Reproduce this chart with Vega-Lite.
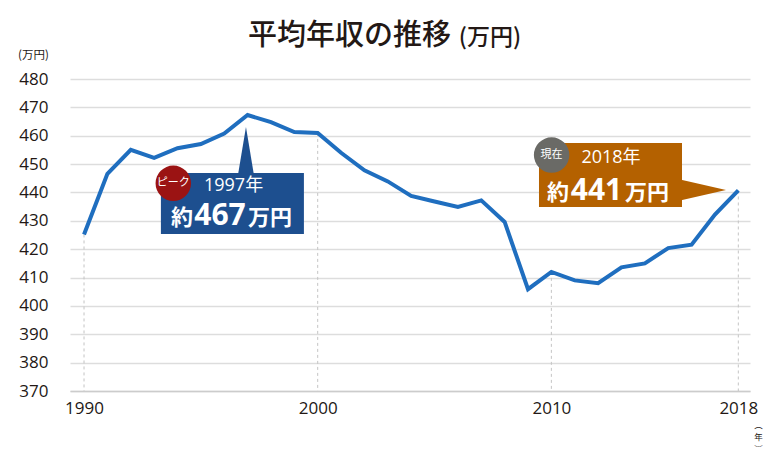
{
  "$schema": "https://vega.github.io/schema/vega-lite/v6.json",
  "width": 680,
  "height": 312,
  "autosize": {"type": "none"},
  "padding": {"left": 70, "top": 79, "right": 27, "bottom": 63},
  "background": "white",
  "config": {"view": {"stroke": null}},
  "data": {"values": [
    {"year": 1990, "income": 425.2}, {"year": 1991, "income": 446.6}, {"year": 1992, "income": 455.0},
    {"year": 1993, "income": 452.2}, {"year": 1994, "income": 455.6}, {"year": 1995, "income": 457.1},
    {"year": 1996, "income": 460.8}, {"year": 1997, "income": 467.3}, {"year": 1998, "income": 464.8},
    {"year": 1999, "income": 461.3}, {"year": 2000, "income": 461.0}, {"year": 2001, "income": 454.0},
    {"year": 2002, "income": 447.8}, {"year": 2003, "income": 443.9}, {"year": 2004, "income": 438.8},
    {"year": 2005, "income": 436.8}, {"year": 2006, "income": 434.9}, {"year": 2007, "income": 437.2},
    {"year": 2008, "income": 429.6}, {"year": 2009, "income": 405.9}, {"year": 2010, "income": 412.0},
    {"year": 2011, "income": 409.0}, {"year": 2012, "income": 408.0}, {"year": 2013, "income": 413.6},
    {"year": 2014, "income": 415.0}, {"year": 2015, "income": 420.4}, {"year": 2016, "income": 421.6},
    {"year": 2017, "income": 432.2}, {"year": 2018, "income": 440.7}
  ]},
  "layer": [
    {
      "mark": {"type": "line", "color": "#1f6ebf", "strokeWidth": 4, "strokeJoin": "miter", "opacity": 0},
      "encoding": {
        "x": {"field": "year", "type": "quantitative", "scale": {"domain": [1989.4, 2018.5], "nice": false, "zero": false},
          "axis": {"values": [1990, 2000, 2010, 2018], "tickCount": 10, "format": "d", "grid": false, "ticks": false,
            "domainColor": "#cccccc", "domainWidth": 1.5, "labelFont": "Open Sans", "labelFontSize": 17,
            "labelColor": "#231815", "labelPadding": 9, "labelFlush": false, "labelOverlap": false,
            "title": ["︵", "年", "︶"], "titleX": 688, "titleY": 29, "titleAngle": 0, "titleAlign": "center",
            "titleBaseline": "top", "titleFont": "Noto Sans CJK JP", "titleFontSize": 8.5, "titleFontWeight": "normal",
            "titleLineHeight": 12, "titleColor": "#231815"}},
        "y": {"field": "income", "type": "quantitative", "scale": {"domain": [370, 480], "nice": false, "zero": false},
          "axis": {"values": [370, 380, 390, 400, 410, 420, 430, 440, 450, 460, 470, 480], "tickCount": 20, "grid": true,
            "gridColor": "#dddddd", "gridWidth": 1.5, "ticks": false, "domain": false, "labelOverlap": false,
            "labelFont": "Open Sans", "labelFontSize": 17, "labelColor": "#231815", "labelPadding": 22,
            "title": "(万円)", "titleAngle": 0, "titleX": -37, "titleY": -24, "titleAlign": "center",
            "titleBaseline": "middle", "titleFont": "Noto Sans CJK JP", "titleFontSize": 11.5,
            "titleFontWeight": "normal", "titleColor": "#231815"}}
      }
    },
    {
      "transform": [{"filter": {"field": "year", "oneOf": [1990, 2000, 2010, 2018]}}],
      "mark": {"type": "rule", "color": "#c4c4c4", "strokeWidth": 1, "strokeDash": [3, 3]},
      "encoding": {
        "x": {"field": "year", "type": "quantitative"},
        "y": {"field": "income", "type": "quantitative"},
        "y2": {"datum": 370}
      }
    },
    {
      "mark": {"type": "line", "color": "#1f6ebf", "strokeWidth": 4, "strokeJoin": "miter"},
      "encoding": {
        "x": {"field": "year", "type": "quantitative"},
        "y": {"field": "income", "type": "quantitative"}
      }
    },
    {
      "data": {"values": [{}]},
      "mark": {"type": "rect", "color": "#1d4f8f"},
      "encoding": {
        "x": {"datum": 1993.29, "type": "quantitative"},
        "x2": {"datum": 1999.41},
        "y": {"datum": 446.86, "type": "quantitative"},
        "y2": {"datum": 425.35}
      }
    },
    {
      "data": {"values": [{}]},
      "mark": {"type": "point", "shape": "M -0.333 1 L 0 -1 L 0.333 1 Z", "size": 2304, "filled": true, "opacity": 1, "color": "#1d4f8f", "strokeWidth": 0},
      "encoding": {
        "x": {"datum": 1996.93, "type": "quantitative"},
        "y": {"datum": 454.61, "type": "quantitative"}
      }
    },
    {
      "data": {"values": [{}]},
      "mark": {"type": "rect", "color": "#b46100"},
      "encoding": {
        "x": {"datum": 2009.47, "type": "quantitative"},
        "x2": {"datum": 2015.59},
        "y": {"datum": 457.43, "type": "quantitative"},
        "y2": {"datum": 434.87}
      }
    },
    {
      "data": {"values": [{}]},
      "mark": {"type": "point", "shape": "M -1 -0.46 L 1 0 L -1 0.46 Z", "size": 2116, "filled": true, "opacity": 1, "color": "#b46100", "strokeWidth": 0},
      "encoding": {
        "x": {"datum": 2016.49, "type": "quantitative"},
        "y": {"datum": 440.86, "type": "quantitative"}
      }
    },
    {
      "data": {"values": [{}]},
      "mark": {"type": "point", "shape": "circle", "size": 1257, "filled": true, "opacity": 1, "color": "#9b1313", "strokeWidth": 0},
      "encoding": {
        "x": {"datum": 1993.82, "type": "quantitative"},
        "y": {"datum": 443.23, "type": "quantitative"}
      }
    },
    {
      "data": {"values": [{}]},
      "mark": {"type": "point", "shape": "circle", "size": 1257, "filled": true, "opacity": 1, "color": "#6a6a66", "strokeWidth": 0},
      "encoding": {
        "x": {"datum": 2010.01, "type": "quantitative"},
        "y": {"datum": 453.2, "type": "quantitative"}
      }
    },
    {
      "data": {"values": [{"label": "ピーク"}]},
      "mark": {"type": "text", "font": "Noto Sans CJK JP", "fontSize": 11, "color": "white", "align": "center", "baseline": "middle"},
      "encoding": {"text": {"field": "label"}, "x": {"datum": 1993.82, "type": "quantitative"}, "y": {"datum": 443.23, "type": "quantitative"}}
    },
    {
      "data": {"values": [{"label": "現在"}]},
      "mark": {"type": "text", "font": "Noto Sans CJK JP", "fontSize": 11, "color": "white", "align": "center", "baseline": "middle"},
      "encoding": {"text": {"field": "label"}, "x": {"datum": 2010.01, "type": "quantitative"}, "y": {"datum": 453.2, "type": "quantitative"}}
    },
    {
      "data": {"values": [{"label": "1997年"}]},
      "mark": {"type": "text", "font": "Open Sans, Noto Sans CJK JP", "fontSize": 18, "color": "white", "align": "center", "baseline": "middle"},
      "encoding": {"text": {"field": "label"}, "x": {"datum": 1996.4, "type": "quantitative"}, "y": {"datum": 442.27, "type": "quantitative"}}
    },
    {
      "data": {"values": [{"label": "467"}]},
      "mark": {"type": "text", "font": "Open Sans", "fontWeight": "bold", "fontSize": 30, "color": "white", "align": "center", "baseline": "alphabetic"},
      "encoding": {"text": {"field": "label"}, "x": {"datum": 1995.82, "type": "quantitative"}, "y": {"datum": 428.52, "type": "quantitative"}}
    },
    {
      "data": {"values": [{"label": "約"}]},
      "mark": {"type": "text", "font": "Noto Sans CJK JP", "fontWeight": "bold", "fontSize": 22, "color": "white", "align": "right", "baseline": "alphabetic"},
      "encoding": {"text": {"field": "label"}, "x": {"datum": 1994.66, "type": "quantitative"}, "y": {"datum": 428.52, "type": "quantitative"}}
    },
    {
      "data": {"values": [{"label": "万円"}]},
      "mark": {"type": "text", "font": "Noto Sans CJK JP", "fontWeight": "bold", "fontSize": 22, "color": "white", "align": "left", "baseline": "alphabetic"},
      "encoding": {"text": {"field": "label"}, "x": {"datum": 1997.02, "type": "quantitative"}, "y": {"datum": 428.52, "type": "quantitative"}}
    },
    {
      "data": {"values": [{"label": "2018年"}]},
      "mark": {"type": "text", "font": "Open Sans, Noto Sans CJK JP", "fontSize": 18, "color": "white", "align": "center", "baseline": "middle"},
      "encoding": {"text": {"field": "label"}, "x": {"datum": 2012.55, "type": "quantitative"}, "y": {"datum": 452.15, "type": "quantitative"}}
    },
    {
      "data": {"values": [{"label": "441"}]},
      "mark": {"type": "text", "font": "Open Sans", "fontWeight": "bold", "fontSize": 30, "color": "white", "align": "center", "baseline": "alphabetic"},
      "encoding": {"text": {"field": "label"}, "x": {"datum": 2011.93, "type": "quantitative"}, "y": {"datum": 437.34, "type": "quantitative"}}
    },
    {
      "data": {"values": [{"label": "約"}]},
      "mark": {"type": "text", "font": "Noto Sans CJK JP", "fontWeight": "bold", "fontSize": 22, "color": "white", "align": "right", "baseline": "alphabetic"},
      "encoding": {"text": {"field": "label"}, "x": {"datum": 2010.75, "type": "quantitative"}, "y": {"datum": 437.34, "type": "quantitative"}}
    },
    {
      "data": {"values": [{"label": "万円"}]},
      "mark": {"type": "text", "font": "Noto Sans CJK JP", "fontWeight": "bold", "fontSize": 22, "color": "white", "align": "left", "baseline": "alphabetic"},
      "encoding": {"text": {"field": "label"}, "x": {"datum": 2013.15, "type": "quantitative"}, "y": {"datum": 437.34, "type": "quantitative"}}
    },
    {
      "data": {"values": [{"label": "平均年収の推移"}]},
      "mark": {"type": "text", "font": "Noto Sans CJK JP", "fontWeight": 500, "fontSize": 29, "color": "#231815", "align": "left", "baseline": "middle"},
      "encoding": {"text": {"field": "label"}, "x": {"datum": 1997.02, "type": "quantitative"}, "y": {"datum": 495.16, "type": "quantitative"}}
    },
    {
      "data": {"values": [{"label": "(万円)"}]},
      "mark": {"type": "text", "font": "Noto Sans CJK JP", "fontWeight": 500, "fontSize": 23, "color": "#231815", "align": "center", "baseline": "middle"},
      "encoding": {"text": {"field": "label"}, "x": {"datum": 2007.37, "type": "quantitative"}, "y": {"datum": 494.63, "type": "quantitative"}}
    }
  ]
}
